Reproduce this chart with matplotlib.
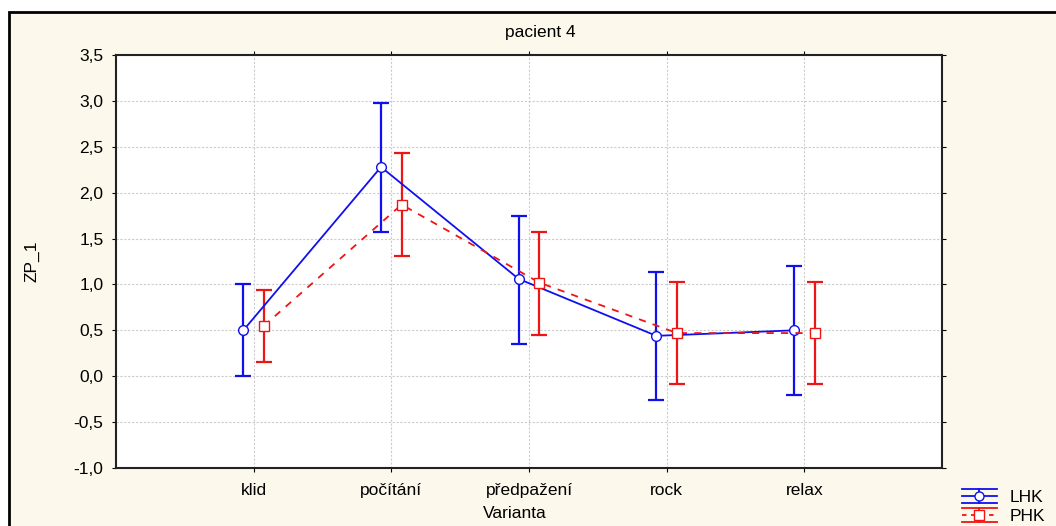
import matplotlib
matplotlib.use("Agg")
import matplotlib.pyplot as plt
from matplotlib.ticker import FuncFormatter, MultipleLocator
from matplotlib.patches import Rectangle
from matplotlib.legend_handler import HandlerBase
from matplotlib.lines import Line2D
import numpy as np

plt.rcParams['font.family'] = ['Liberation Sans', 'DejaVu Sans']

categories = ["klid", "počítání", "předpažení", "rock", "relax"]
lhk_mean = [0.50, 2.28, 1.06, 0.44, 0.50]
lhk_upper = [1.00, 2.98, 1.75, 1.14, 1.20]
lhk_lower = [0.00, 1.57, 0.35, -0.26, -0.20]
phk_mean = [0.55, 1.87, 1.02, 0.47, 0.47]
phk_upper = [0.94, 2.43, 1.57, 1.03, 1.03]
phk_lower = [0.15, 1.31, 0.45, -0.09, -0.09]

W, H = 1056, 526
fig = plt.figure(figsize=(W / 100, H / 100), dpi=100)
fig.patch.set_facecolor('white')
cream = '#fdf8ec'
FS = 12.5
BLUE = '#1010ee'
RED = '#ee1515'
# outer frame
frame = Rectangle((9 / W, -0.1), 1.2, 1 - 12 / H + 0.1, transform=fig.transFigure,
                  facecolor=cream, edgecolor='black', linewidth=2, zorder=-5)
fig.patches.append(frame)

ax = fig.add_axes([116 / W, 1 - 468 / H, (942 - 116) / W, (468 - 55) / H])
ax.set_facecolor('white')

x = np.arange(1, len(categories) + 1)
off = 0.075

def err(mean, lo, hi):
    m = np.array(mean); return [m - np.array(lo), np.array(hi) - m]

ax.errorbar(x - off, lhk_mean, yerr=err(lhk_mean, lhk_lower, lhk_upper), color=BLUE,
            marker='o', markersize=7, markerfacecolor='white', markeredgecolor=BLUE,
            linewidth=1.3, elinewidth=1.6, capsize=6, capthick=1.6, label='LHK', zorder=3)
ax.errorbar(x + off, phk_mean, yerr=err(phk_mean, phk_lower, phk_upper), color=RED,
            marker='s', markersize=7, markerfacecolor='white', markeredgecolor=RED,
            linewidth=1.3, linestyle=(0, (4, 4)), elinewidth=1.6, capsize=6, capthick=1.6,
            label='PHK', zorder=3)

ax.set_xlim(0, 6)
ax.set_ylim(-1.0, 3.5)
ax.set_xticks(x)
ax.set_xticklabels(categories, fontsize=FS)
ax.yaxis.set_major_locator(MultipleLocator(0.5))
ax.yaxis.set_major_formatter(FuncFormatter(lambda v, p: f"{v:.1f}".replace('.', ',')))
ax.tick_params(axis='y', labelsize=FS, direction='out', length=3, pad=6)
ax.tick_params(axis='x', direction='out', length=3, pad=8)
ax.tick_params(top=True, right=True)
ax.grid(True, color='#cccccc', linestyle=(0, (2, 1.5)), linewidth=0.8, zorder=0)
ax.set_axisbelow(True)
for s in ax.spines.values():
    s.set_linewidth(1.5)
    s.set_color('#222222')

ax.set_ylabel('ZP_1', fontsize=FS, labelpad=0)
ax.yaxis.set_label_coords(-(116 - 40) / (942 - 116), 0.5)
fig.text(515 / W, 1 - 513 / H, 'Varianta', ha='center', va='center', fontsize=FS)
fig.text(540 / W, 1 - 33 / H, 'pacient 4', ha='center', va='center', fontsize=FS)


class ErrHandler(HandlerBase):
    def __init__(self, color, marker, ls):
        super().__init__()
        self.color, self.marker, self.ls = color, marker, ls

    def create_artists(self, legend, orig_handle, xdescent, ydescent, width, height,
                       fontsize, trans):
        yc = height / 2 - ydescent
        d = 5.0
        x0, x1 = -xdescent, -xdescent + width
        arts = [
            Line2D([x0, x1], [yc + d, yc + d], color=self.color, lw=1.3),
            Line2D([x0, x1], [yc - d, yc - d], color=self.color, lw=1.3),
            Line2D([x0, x1], [yc, yc], color=self.color, lw=1.3, linestyle=self.ls),
            Line2D([(x0 + x1) / 2] * 2, [yc - d, yc + d], color=self.color, lw=1.3),
            Line2D([(x0 + x1) / 2], [yc], marker=self.marker, markersize=6.5,
                   markerfacecolor='white', markeredgecolor=self.color, linestyle='none'),
        ]
        for a in arts:
            a.set_transform(trans)
        return arts


h1 = Line2D([], [], color=BLUE)
h2 = Line2D([], [], color=RED)
leg = fig.legend([h1, h2], ['LHK', 'PHK'], loc='upper left',
                 bbox_to_anchor=(962 / W, 1 - 488 / H), frameon=False,
                 fontsize=FS, handlelength=2.0, handleheight=1.0, labelspacing=0.15,
                 borderpad=0, borderaxespad=0, handletextpad=0.75,
                 handler_map={h1: ErrHandler(BLUE, 'o', '-'),
                              h2: ErrHandler(RED, 's', (0, (2.5, 2.5)))})

fig.savefig('out.png', dpi=100, facecolor=fig.get_facecolor())
